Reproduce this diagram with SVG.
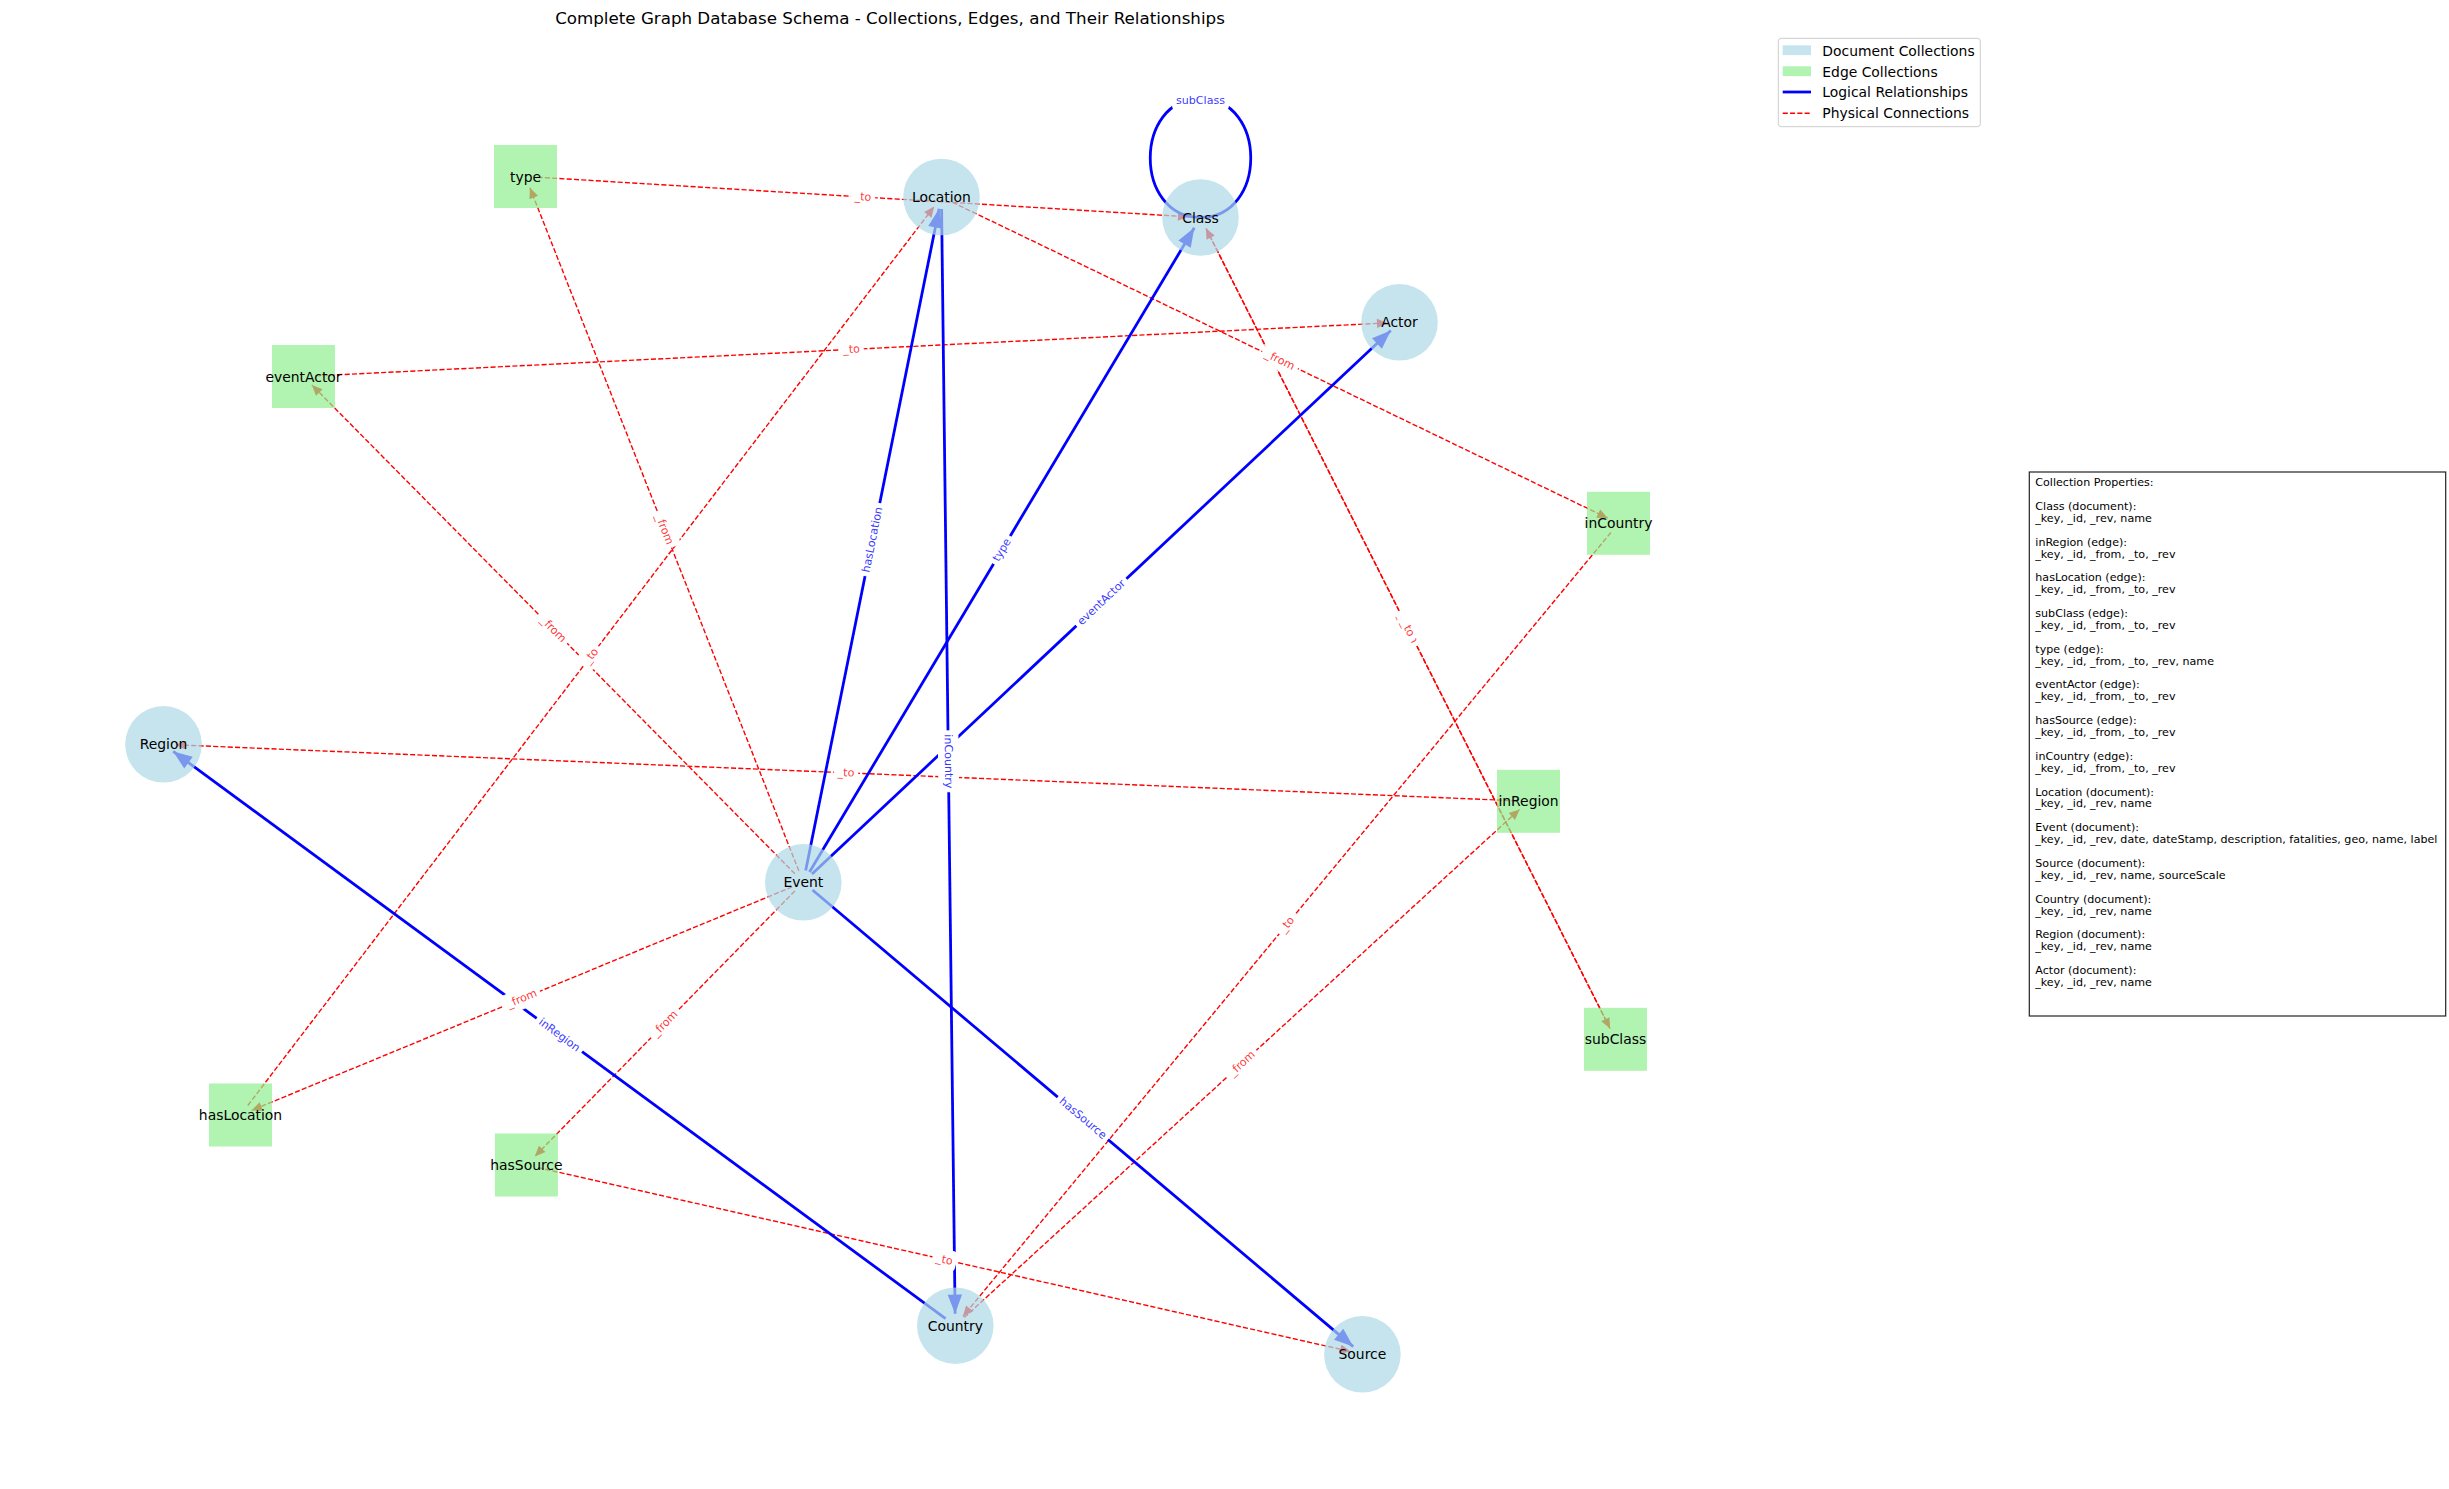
<svg xmlns="http://www.w3.org/2000/svg" width="2449" height="1489" viewBox="0 0 2449 1489">
<style>
  text { font-family: "DejaVu Sans", "Liberation Sans", sans-serif; }
  .doc { fill: #add8e6; fill-opacity: 0.7; }
  .edge { fill: #90ee90; fill-opacity: 0.7; }
  .nlabel { font-size: 13.9px; fill: #000; text-anchor: middle; dominant-baseline: central; }
  .logical { stroke: #0000ff; stroke-width: 2.78; fill: none; }
  .physical { stroke: #ff0000; stroke-width: 1.39; stroke-dasharray: 5.1 2.2; fill: none; }
  .lblbox { fill: #ffffff; stroke: #ffffff; stroke-width: 1; }
  .lbl-b { font-size: 11.1px; fill: #0000ff; fill-opacity: 0.8; text-anchor: middle; dominant-baseline: central; }
  .lbl-r { font-size: 11.1px; fill: #ff0000; fill-opacity: 0.8; text-anchor: middle; dominant-baseline: central; }
  .legtext { font-size: 13.9px; fill: #000; dominant-baseline: central; }
  .props { font-size: 11.1px; fill: #000; }
</style>
<defs>
  <marker id="ah-blue" markerUnits="userSpaceOnUse" viewBox="-21 -9 22 18" markerWidth="22" markerHeight="18" refX="0" refY="0" orient="auto">
    <path d="M0,0 L-19,-7.2 L-19,7.2 Z" fill="#0000ff"/>
  </marker>
  <marker id="ah-red" markerUnits="userSpaceOnUse" viewBox="-12 -6 13 12" markerWidth="13" markerHeight="12" refX="0" refY="0" orient="auto">
    <path d="M0,0 L-10.5,-4.6 L-10.5,4.6 Z" fill="#ff0000"/>
  </marker>
</defs>
<rect x="0" y="0" width="2449" height="1489" fill="#ffffff"/>

<text x="890" y="24" font-size="16.7" text-anchor="middle" fill="#000">Complete Graph Database Schema - Collections, Edges, and Their Relationships</text>

<g id="connectors">
  <!-- physical connections -->
  <path class="physical" marker-end="url(#ah-red)" d="M798.9,871.1 L529.9,187.7"/>
  <path class="physical" marker-end="url(#ah-red)" d="M537.5,177.2 L1188.5,216.8"/>
  <path class="physical" marker-end="url(#ah-red)" d="M794.9,873.8 L311.9,385.0"/>
  <path class="physical" marker-end="url(#ah-red)" d="M315.5,375.9 L1387.5,322.9"/>
  <path class="physical" marker-end="url(#ah-red)" d="M792.2,886.9 L251.6,1110.4"/>
  <path class="physical" marker-end="url(#ah-red)" d="M247.8,1105.5 L934.2,206.5"/>
  <path class="physical" marker-end="url(#ah-red)" d="M794.9,890.9 L534.8,1156.4"/>
  <path class="physical" marker-end="url(#ah-red)" d="M538.1,1167.6 L1350.7,1351.6"/>
  <path class="physical" marker-end="url(#ah-red)" d="M952.3,202.2 L1607.7,518.1"/>
  <path class="physical" marker-end="url(#ah-red)" d="M1610.9,532.5 L962.9,1316.5"/>
  <path class="physical" marker-end="url(#ah-red)" d="M964.2,1317.6 L1519.6,809.4"/>
  <path class="physical" marker-end="url(#ah-red)" d="M1516.5,800.8 L175.5,744.8"/>
  <path class="physical" marker-end="url(#ah-red)" d="M1205.9,228.2 L1610.1,1028.6"/>
  <path class="physical" marker-end="url(#ah-red)" d="M1610.1,1028.6 L1205.9,228.2"/>
  <!-- logical relationships -->
  <path class="logical" marker-end="url(#ah-blue)" d="M805.7,870.5 L939.1,208.8"/>
  <path class="logical" marker-end="url(#ah-blue)" d="M809.5,872.0 L1194.3,227.8"/>
  <path class="logical" marker-end="url(#ah-blue)" d="M812.0,874.1 L1390.8,330.5"/>
  <path class="logical" marker-end="url(#ah-blue)" d="M812.5,890.0 L1353.2,1346.6"/>
  <path class="logical" marker-end="url(#ah-blue)" d="M941.6,209.0 L955.1,1313.7"/>
  <path class="logical" marker-end="url(#ah-blue)" d="M945.6,1318.6 L173.2,751.4"/>
  <path class="logical" d="M1200.5,98.5 C1267.5,98.5 1267.5,217.5 1200.5,217.5 C1133.5,217.5 1133.5,98.5 1200.5,98.5"/>

  <!-- physical labels -->
  <g transform="translate(664.4,529.4) rotate(68.5)"><rect class="lblbox" x="-19.2" y="-9.8" width="38.3" height="19.6" rx="4"/><text class="lbl-r">_from</text></g>
  <g transform="translate(863,197) rotate(3.5)"><rect class="lblbox" x="-11.7" y="-9.8" width="23.4" height="19.6" rx="4"/><text class="lbl-r">_to</text></g>
  <g transform="translate(553.4,629.4) rotate(45.3)"><rect class="lblbox" x="-19.2" y="-9.8" width="38.3" height="19.6" rx="4"/><text class="lbl-r">_from</text></g>
  <g transform="translate(851.5,349.4) rotate(-2.8)"><rect class="lblbox" x="-11.7" y="-9.8" width="23.4" height="19.6" rx="4"/><text class="lbl-r">_to</text></g>
  <g transform="translate(521.9,998.65) rotate(-22.5)"><rect class="lblbox" x="-19.2" y="-9.8" width="38.3" height="19.6" rx="4"/><text class="lbl-r">_from</text></g>
  <g transform="translate(591,656) rotate(-52.6)"><rect class="lblbox" x="-11.7" y="-9.8" width="23.4" height="19.6" rx="4"/><text class="lbl-r">_to</text></g>
  <g transform="translate(664.85,1023.65) rotate(-45.6)"><rect class="lblbox" x="-19.2" y="-9.8" width="38.3" height="19.6" rx="4"/><text class="lbl-r">_from</text></g>
  <g transform="translate(944.4,1259.65) rotate(12.8)"><rect class="lblbox" x="-11.7" y="-9.8" width="23.4" height="19.6" rx="4"/><text class="lbl-r">_to</text></g>
  <g transform="translate(1280,360.15) rotate(25.7)"><rect class="lblbox" x="-19.2" y="-9.8" width="38.3" height="19.6" rx="4"/><text class="lbl-r">_from</text></g>
  <g transform="translate(1286.9,924.5) rotate(-50.4)"><rect class="lblbox" x="-11.7" y="-9.8" width="23.4" height="19.6" rx="4"/><text class="lbl-r">_to</text></g>
  <g transform="translate(1241.9,1063.5) rotate(-42.5)"><rect class="lblbox" x="-19.2" y="-9.8" width="38.3" height="19.6" rx="4"/><text class="lbl-r">_from</text></g>
  <g transform="translate(846,772.8) rotate(2.4)"><rect class="lblbox" x="-11.7" y="-9.8" width="23.4" height="19.6" rx="4"/><text class="lbl-r">_to</text></g>
  <g transform="translate(1408,628.4) rotate(63.2)"><rect class="lblbox" x="-19.2" y="-9.8" width="38.3" height="19.6" rx="4"/><text class="lbl-r">_from</text></g>
  <g transform="translate(1408,628.4) rotate(63.2)"><rect class="lblbox" x="-11.7" y="-9.8" width="23.4" height="19.6" rx="4"/><text class="lbl-r">_to</text></g>

  <!-- logical labels -->
  <g transform="translate(872.4,539.65) rotate(-78.6)"><rect class="lblbox" x="-36.8" y="-9.8" width="73.5" height="19.6" rx="4"/><text class="lbl-b">hasLocation</text></g>
  <g transform="translate(1001.9,549.9) rotate(-59.1)"><rect class="lblbox" x="-15.8" y="-9.8" width="31.5" height="19.6" rx="4"/><text class="lbl-b">type</text></g>
  <g transform="translate(1101.4,602.3) rotate(-43.2)"><rect class="lblbox" x="-33.9" y="-9.8" width="67.7" height="19.6" rx="4"/><text class="lbl-b">eventActor</text></g>
  <g transform="translate(1082.9,1118.3) rotate(40.2)"><rect class="lblbox" x="-32.4" y="-9.8" width="64.7" height="19.6" rx="4"/><text class="lbl-b">hasSource</text></g>
  <g transform="translate(948.4,761.35) rotate(89.3)"><rect class="lblbox" x="-30.5" y="-9.8" width="60.9" height="19.6" rx="4"/><text class="lbl-b">inCountry</text></g>
  <g transform="translate(559.4,1035) rotate(36.3)"><rect class="lblbox" x="-27.7" y="-9.8" width="55.3" height="19.6" rx="4"/><text class="lbl-b">inRegion</text></g>
  <g transform="translate(1200.5,100.5)"><rect class="lblbox" x="-27.9" y="-9.8" width="55.8" height="19.6" rx="4"/><text class="lbl-b">subClass</text></g>
</g>

<g id="node-type"><rect class="edge" x="494" y="145" width="63" height="63"/><text class="nlabel" x="525.5" y="176.5">type</text></g>
<g id="node-Location"><circle class="doc" cx="941.5" cy="197" r="38.3"/><text class="nlabel" x="941.5" y="197">Location</text></g>
<g id="node-Class"><circle class="doc" cx="1200.5" cy="217.5" r="38.3"/><text class="nlabel" x="1200.5" y="217.5">Class</text></g>
<g id="node-Actor"><circle class="doc" cx="1399.5" cy="322.3" r="38.3"/><text class="nlabel" x="1399.5" y="322.3">Actor</text></g>
<g id="node-eventActor"><rect class="edge" x="272" y="345" width="63" height="63"/><text class="nlabel" x="303.5" y="376.5">eventActor</text></g>
<g id="node-inCountry"><rect class="edge" x="1587" y="491.8" width="63" height="63"/><text class="nlabel" x="1618.5" y="523.3">inCountry</text></g>
<g id="node-inRegion"><rect class="edge" x="1497" y="769.8" width="63" height="63"/><text class="nlabel" x="1528.5" y="801.3">inRegion</text></g>
<g id="node-subClass"><rect class="edge" x="1584" y="1007.8" width="63" height="63"/><text class="nlabel" x="1615.5" y="1039.3">subClass</text></g>
<g id="node-Region"><circle class="doc" cx="163.5" cy="744.3" r="38.3"/><text class="nlabel" x="163.5" y="744.3">Region</text></g>
<g id="node-Event"><circle class="doc" cx="803.3" cy="882.3" r="38.3"/><text class="nlabel" x="803.3" y="882.3">Event</text></g>
<g id="node-Country"><circle class="doc" cx="955.3" cy="1325.7" r="38.3"/><text class="nlabel" x="955.3" y="1325.7">Country</text></g>
<g id="node-Source"><circle class="doc" cx="1362.4" cy="1354.3" r="38.3"/><text class="nlabel" x="1362.4" y="1354.3">Source</text></g>
<g id="node-hasLocation"><rect class="edge" x="209" y="1083.5" width="63" height="63"/><text class="nlabel" x="240.5" y="1115">hasLocation</text></g>
<g id="node-hasSource"><rect class="edge" x="494.9" y="1133.5" width="63" height="63"/><text class="nlabel" x="526.4" y="1165">hasSource</text></g>

<g id="legend">
  <rect x="1778.3" y="38.3" width="202" height="88.4" rx="3" fill="#ffffff" fill-opacity="0.8" stroke="#cccccc" stroke-width="1"/>
  <rect class="doc" x="1782.7" y="45.3" width="28.3" height="9.8"/>
  <text class="legtext" x="1822.3" y="50.8">Document Collections</text>
  <rect class="edge" x="1782.7" y="66.3" width="28.3" height="9.8"/>
  <text class="legtext" x="1822.3" y="71.6">Edge Collections</text>
  <line x1="1782.7" y1="92" x2="1811" y2="92" stroke="#0000ff" stroke-width="2.78"/>
  <text class="legtext" x="1822.3" y="92.4">Logical Relationships</text>
  <line x1="1782.7" y1="113.2" x2="1811" y2="113.2" class="physical"/>
  <text class="legtext" x="1822.3" y="113.4">Physical Connections</text>
</g>

<g id="properties">
  <rect x="2029.3" y="472" width="416.4" height="544" fill="#ffffff" stroke="#222222" stroke-width="1.2"/>
  <text class="props">
    <tspan x="2035.3" y="486.1">Collection Properties:</tspan>
    <tspan x="2035.3" y="509.9">Class (document):</tspan>
    <tspan x="2035.3" y="521.8">_key, _id, _rev, name</tspan>
    <tspan x="2035.3" y="545.6">inRegion (edge):</tspan>
    <tspan x="2035.3" y="557.5">_key, _id, _from, _to, _rev</tspan>
    <tspan x="2035.3" y="581.3">hasLocation (edge):</tspan>
    <tspan x="2035.3" y="593.2">_key, _id, _from, _to, _rev</tspan>
    <tspan x="2035.3" y="617.0">subClass (edge):</tspan>
    <tspan x="2035.3" y="628.9">_key, _id, _from, _to, _rev</tspan>
    <tspan x="2035.3" y="652.7">type (edge):</tspan>
    <tspan x="2035.3" y="664.6">_key, _id, _from, _to, _rev, name</tspan>
    <tspan x="2035.3" y="688.4">eventActor (edge):</tspan>
    <tspan x="2035.3" y="700.3">_key, _id, _from, _to, _rev</tspan>
    <tspan x="2035.3" y="724.1">hasSource (edge):</tspan>
    <tspan x="2035.3" y="736.0">_key, _id, _from, _to, _rev</tspan>
    <tspan x="2035.3" y="759.8">inCountry (edge):</tspan>
    <tspan x="2035.3" y="771.7">_key, _id, _from, _to, _rev</tspan>
    <tspan x="2035.3" y="795.5">Location (document):</tspan>
    <tspan x="2035.3" y="807.4">_key, _id, _rev, name</tspan>
    <tspan x="2035.3" y="831.2">Event (document):</tspan>
    <tspan x="2035.3" y="843.1">_key, _id, _rev, date, dateStamp, description, fatalities, geo, name, label</tspan>
    <tspan x="2035.3" y="866.9">Source (document):</tspan>
    <tspan x="2035.3" y="878.8">_key, _id, _rev, name, sourceScale</tspan>
    <tspan x="2035.3" y="902.6">Country (document):</tspan>
    <tspan x="2035.3" y="914.5">_key, _id, _rev, name</tspan>
    <tspan x="2035.3" y="938.3">Region (document):</tspan>
    <tspan x="2035.3" y="950.2">_key, _id, _rev, name</tspan>
    <tspan x="2035.3" y="974.0">Actor (document):</tspan>
    <tspan x="2035.3" y="985.9">_key, _id, _rev, name</tspan>
  </text>
</g>
</svg>
